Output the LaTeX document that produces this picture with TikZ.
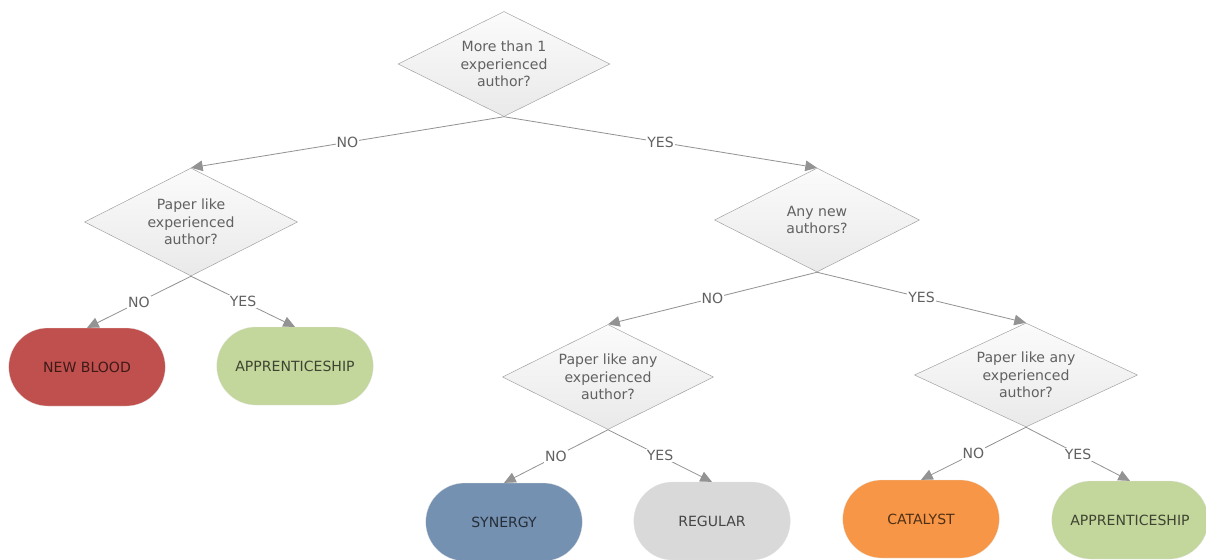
\documentclass[tikz,border=0pt]{standalone}
\usepackage{fontspec}
\setmainfont{DejaVu Sans}
\usepackage{tikz}
\usetikzlibrary{shapes.geometric,shapes.misc,arrows.meta}
\definecolor{bloodred}{HTML}{C0504D}
\definecolor{apprgreen}{HTML}{C3D69B}
\definecolor{synblue}{HTML}{7591B1}
\definecolor{reggray}{HTML}{D9D9D9}
\definecolor{catorange}{HTML}{F79646}
\tikzset{
    decision/.style={
        diamond,shape aspect=2,draw=gray!75,thin,
        top color=gray!3,bottom color=gray!17,
        inner sep=0pt,align=center,
        text=black!62,
        font=\fontsize{12}{15}\selectfont
    },
    outcome/.style={
        rounded rectangle,draw=white!80!gray,very thin,
        minimum width=4.93cm,minimum height=2.34cm,
        text=black,text opacity=.68,
        font=\fontsize{12}{15}\selectfont
    },
    answer/.style={
        fill=white,inner sep=1pt,
        text=black!62,
        font=\fontsize{12}{15}\selectfont
    },
    link/.style={draw=gray!85,line width=.7pt,->},
    >={Triangle[length=10pt,width=9pt]}
}
\begin{document}
\begin{tikzpicture}[x=0.03cm,y=-0.03cm]
\useasboundingbox (0,0) rectangle (1206,559);
% questions
\node[decision,minimum width=6.36cm,minimum height=3.15cm] (q_1) at (504,64) {More than 1\\experienced\\author?};
\node[decision,minimum width=6.39cm,minimum height=3.24cm] (q_2) at (191,222) {Paper like\\experienced\\author?};
\node[decision,minimum width=6.15cm,minimum height=3.12cm] (q_3) at (817,220) {Any new\\authors?};
\node[decision,minimum width=6.33cm,minimum height=3.15cm] (q_4) at (608,377) {Paper like any\\experienced\\author?};
\node[decision,minimum width=6.69cm,minimum height=3.12cm] (q_5) at (1026,375) {Paper like any\\experienced\\author?};
% outcomes
\foreach \i/\x/\y/\col/\name in {1/87/367/bloodred/NEW BLOOD,2/295/366/apprgreen/APPRENTICESHIP,
    3/504/522/synblue/SYNERGY,4/712/521/reggray/REGULAR,
    5/921/519/catorange/CATALYST,6/1130/520/apprgreen/APPRENTICESHIP}
    \node[outcome,fill=\col] (out_\i) at (\x,\y) {\name};
% answers
\draw[link] (q_1.south) -- node[answer] {NO} (q_2.north);
\draw[link] (q_1.south) -- node[answer] {YES} (q_3.north);
\draw[link] (q_2.south) -- node[answer] {NO} (out_1.north);
\draw[link] (q_2.south) -- node[answer] {YES} (out_2.north);
\draw[link] (q_3.south) -- node[answer] {NO} (q_4.north);
\draw[link] (q_3.south) -- node[answer] {YES} (q_5.north);
\draw[link] (q_4.south) -- node[answer] {NO} (out_3.north);
\draw[link] (q_4.south) -- node[answer] {YES} (out_4.north);
\draw[link] (q_5.south) -- node[answer] {NO} (out_5.north);
\draw[link] (q_5.south) -- node[answer] {YES} (out_6.north);
\end{tikzpicture}
\end{document}
